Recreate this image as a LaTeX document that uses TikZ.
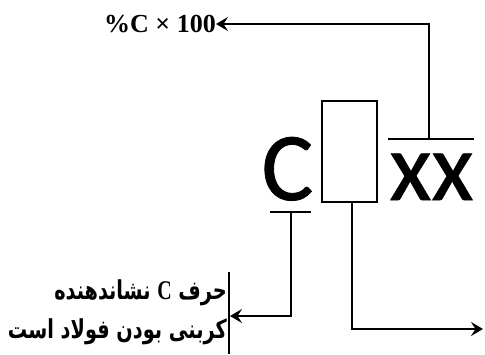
\documentclass[tikz,border=0pt]{standalone}
\usepackage{fontspec}
\usepackage{graphicx}
\usetikzlibrary{arrows.meta}
\TeXXeTstate=1
\newfontfamily\arabicfont[Script=Arabic]{DejaVu Sans}
\newfontfamily\serifbold{Liberation Serif}
\newfontfamily\bigsans{Carlito}[FakeBold=0.8]
\begin{document}
\begin{tikzpicture}[x=1pt,y=-1pt,
  conn/.style={line width=2.8pt,-{Stealth[length=12pt,width=14pt,inset=4.5pt]}},
  barline/.style={line width=2.8pt},
  big/.style={inner sep=0pt,font=\bigsans\fontsize{97}{97}\selectfont},
  fa/.style={inner sep=0pt,anchor=base east,font=\arabicfont\bfseries\fontsize{19.3}{22}\selectfont}]
\useasboundingbox (0,0) rectangle (485,354);
% letters
\node[big,anchor=base] (cl) at (287.5,200) {C};
\node[big,anchor=base] (xx) at (431.5,200) {xx};
\node[draw,line width=2.8pt,minimum width=55pt,minimum height=101pt,inner sep=0pt] (box) at (349.5,151.5) {};
% bars
\coordinate (xxa) at (388,139); \coordinate (xxb) at (474,139); \coordinate (xxm) at (429,139);
\coordinate (ca) at (270,212); \coordinate (cb) at (311,212); \coordinate (cm) at (291,212);
\draw[barline] (xxa) -- (xxb);
\draw[barline] (ca) -- (cb);
% top label
\node[inner sep=0pt,anchor=east,font=\serifbold\bfseries\fontsize{26}{28}\selectfont] (pct) at (216,24) {\%C × 100};
\draw[conn] (xxm) |- (pct.east);
% left bracket and text
\coordinate (va) at (229,272); \coordinate (vb) at (229,354);
\draw[barline] (va) -- (vb);
\coordinate (lt) at (230,316);
\draw[conn] (cm) |- (lt);
\node[fa] (l1) at (227,299) {\scalebox{1}[1.35]{\beginR حرف {\serifbold\bfseries\fontsize{20}{22}\selectfont C} نشاندهنده\endR}};
\node[fa] (l2) at (227,338) {\scalebox{1}[1.35]{\beginR کربنی بودن فولاد است\endR}};
% right arrow
\coordinate (rt) at (483,329);
\draw[conn] (box.south -| 352,0) |- (rt);
\end{tikzpicture}
\end{document}
